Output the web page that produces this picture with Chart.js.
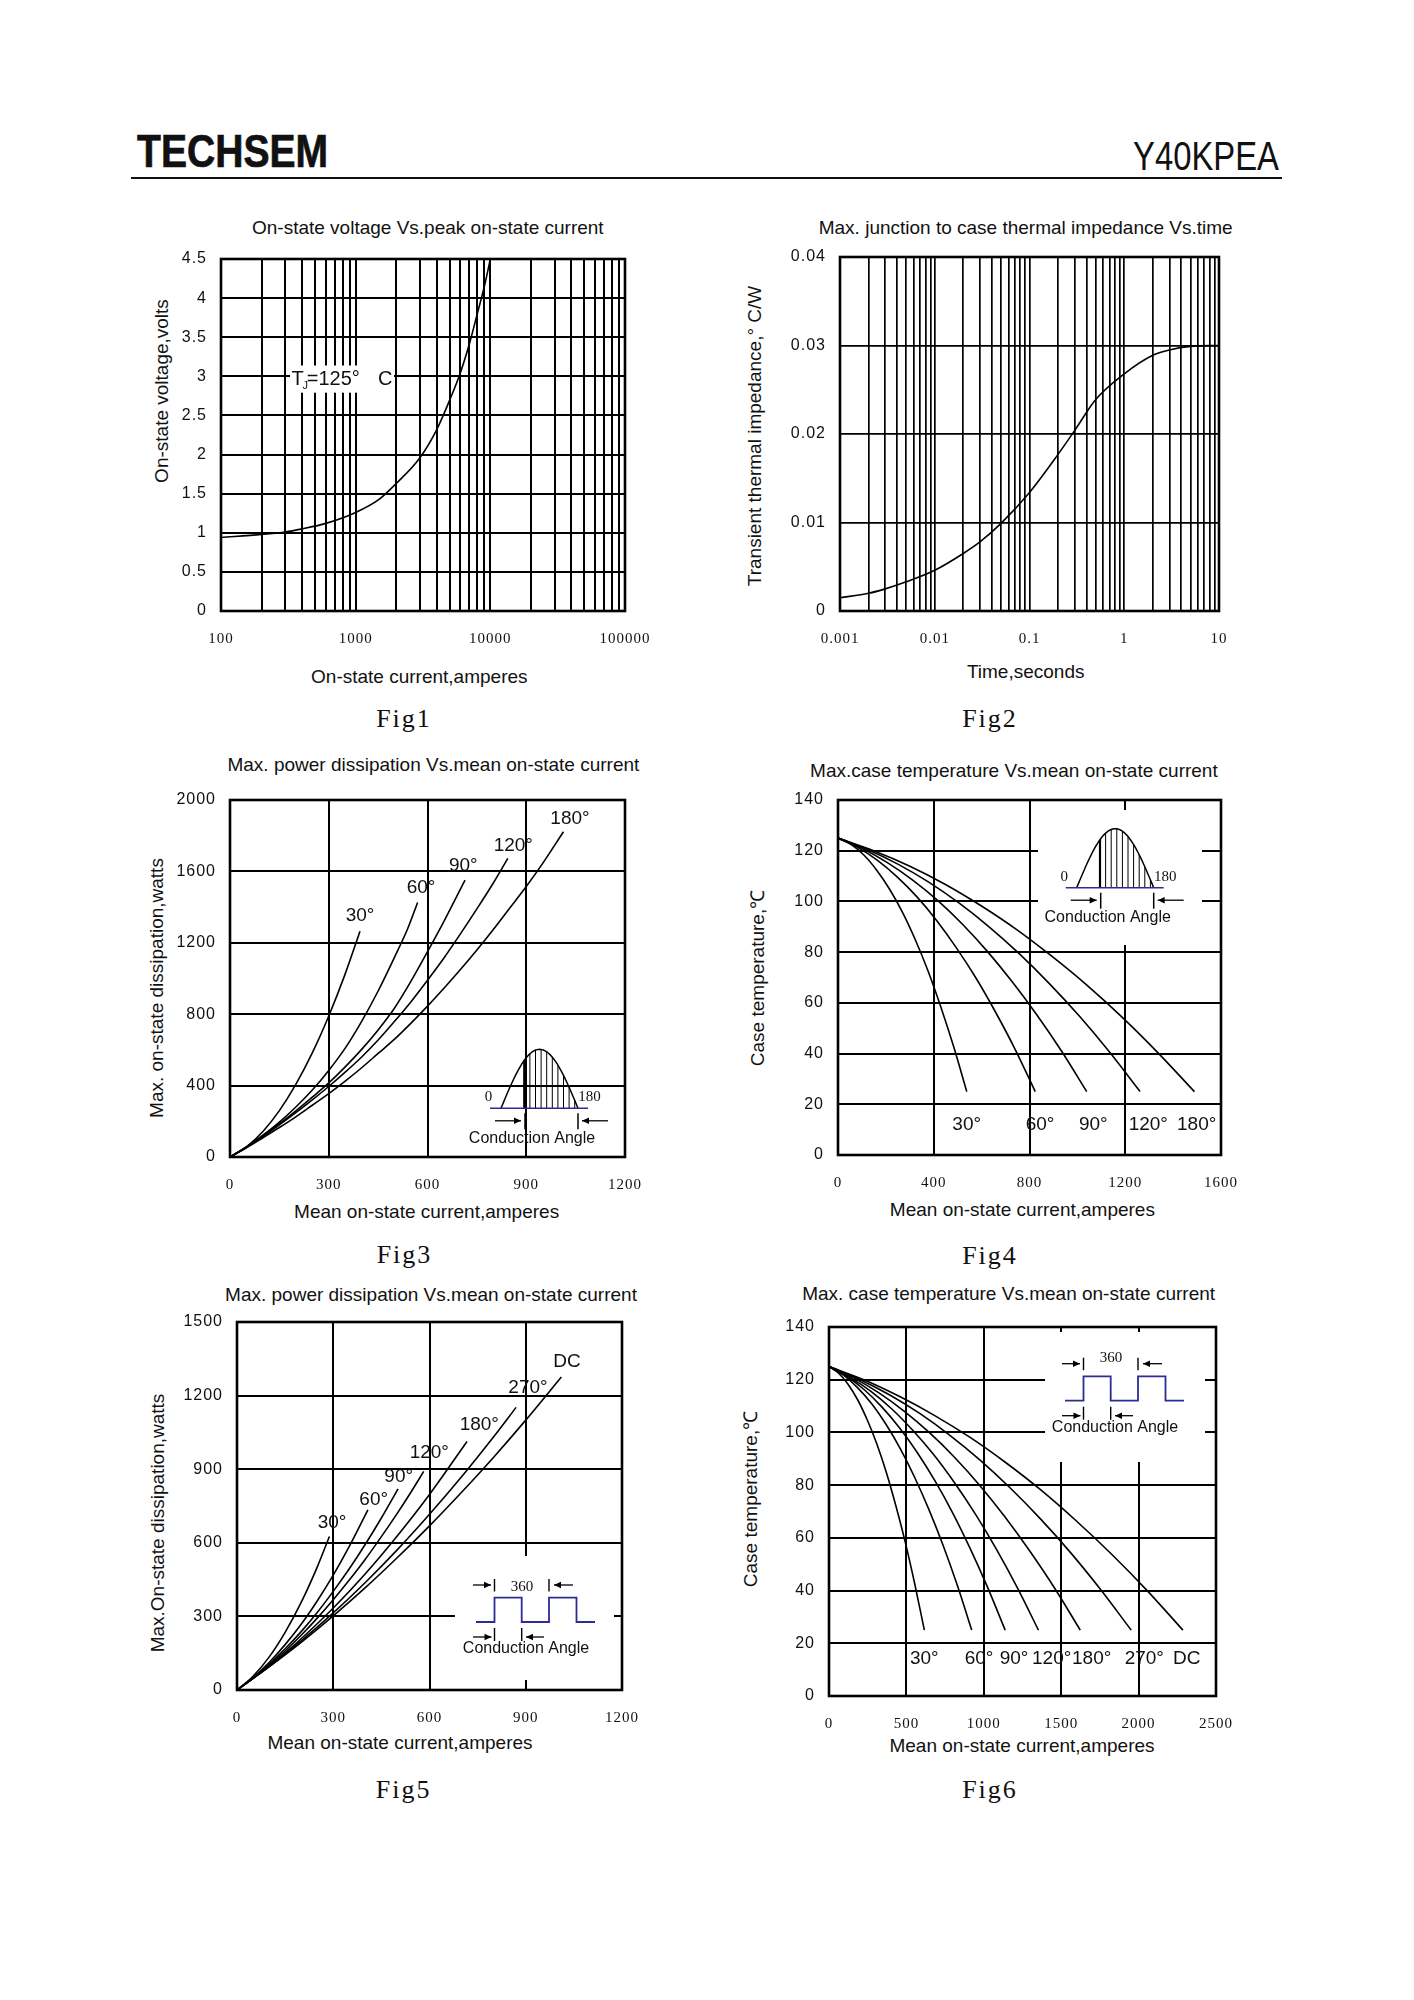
<!DOCTYPE html>
<html><head><meta charset="utf-8">
<script src="https://cdn.jsdelivr.net/npm/chart.js@4.4.1/dist/chart.umd.min.js"></script>
<style>
html,body{margin:0;padding:0;background:#fff;}
#page{position:relative;width:1414px;height:2000px;background:#fff;overflow:hidden;font-family:'Liberation Sans',Arial,sans-serif;color:#111;}
.t{position:absolute;white-space:nowrap;line-height:1;transform:translate(-50%,-50%);}
.title{font-size:19px;}
.axt{font-size:19px;}
.yt{transform:translate(-50%,-50%) rotate(-90deg);}
.fig{font-family:'Liberation Serif','Times New Roman',serif;font-size:26px;letter-spacing:2px;}
canvas{position:absolute;}
#brand{position:absolute;left:136.7px;top:128px;font:bold 46px 'Liberation Sans',Arial,sans-serif;line-height:1;transform:scaleX(0.85);transform-origin:left top;-webkit-text-stroke:0.7px #111;color:#111;white-space:nowrap;}
#model{position:absolute;right:135px;top:135.6px;font:40px 'Liberation Sans',Arial,sans-serif;line-height:1;transform:scaleX(0.82);transform-origin:right top;color:#111;white-space:nowrap;}
#rule{position:absolute;left:131px;top:177px;width:1151px;height:2px;background:#111;}
</style></head><body><div id="page">
<div id="brand">TECHSEM</div>
<div id="model">Y40KPEA</div>
<div id="rule"></div>

<div class="t title" style="left:427.8px;top:226.7px">On-state voltage Vs.peak on-state current</div>
<div class="t axt" style="left:419.3px;top:676px">On-state current,amperes</div>
<div class="t axt yt" style="left:160.8px;top:391px">On-state voltage,volts</div>
<div class="t fig" style="left:404px;top:718.5px">Fig1</div>

<div class="t title" style="left:1025.7px;top:227px">Max. junction to case thermal impedance Vs.time</div>
<div class="t axt" style="left:1025.7px;top:671px">Time,seconds</div>
<div class="t axt yt" style="left:753.6px;top:436px">Transient thermal impedance,° C/W</div>
<div class="t fig" style="left:990px;top:718.5px">Fig2</div>

<div class="t title" style="left:433.4px;top:763.6px">Max. power dissipation Vs.mean on-state current</div>
<div class="t axt" style="left:426.6px;top:1210.5px">Mean on-state current,amperes</div>
<div class="t axt yt" style="left:156px;top:988px">Max. on-state dissipation,watts</div>
<div class="t fig" style="left:404.5px;top:1254.5px">Fig3</div>

<div class="t title" style="left:1013.9px;top:769.7px">Max.case temperature Vs.mean on-state current</div>
<div class="t axt" style="left:1022.4px;top:1208.5px">Mean on-state current,amperes</div>
<div class="t axt yt" style="left:757px;top:978px">Case temperature,℃</div>
<div class="t fig" style="left:990px;top:1255.5px">Fig4</div>

<div class="t title" style="left:431px;top:1293.7px">Max. power dissipation Vs.mean on-state current</div>
<div class="t axt" style="left:400px;top:1742.4px">Mean on-state current,amperes</div>
<div class="t axt yt" style="left:157px;top:1522.7px">Max.On-state dissipation,watts</div>
<div class="t fig" style="left:403.7px;top:1790px">Fig5</div>

<div class="t title" style="left:1008.6px;top:1292.7px">Max. case temperature Vs.mean on-state current</div>
<div class="t axt" style="left:1022px;top:1745.3px">Mean on-state current,amperes</div>
<div class="t axt yt" style="left:750px;top:1498.5px">Case temperature,℃</div>
<div class="t fig" style="left:990px;top:1790px">Fig6</div>
</div>
<script>
// ================= DATA =================
// Fig1: on-state voltage vs peak on-state current (log x)
const fig1Current = [100,200,300,400,600,1000,1500,2000,3000,4000,5000,6000,7000,8000,9000,10000];
const fig1Voltage = [0.94,0.98,1.01,1.05,1.12,1.26,1.43,1.63,1.96,2.32,2.70,3.05,3.42,3.80,4.14,4.5];
const fig1YTicks = [0,0.5,1,1.5,2,2.5,3,3.5,4,4.5];
const fig1YLabels = ['0','0.5','1','1.5','2','2.5','3','3.5','4','4.5'];
const fig1XDecades = [100,1000,10000,100000];
const fig1XLabels = ['100','1000','10000','100000'];

// Fig2: transient thermal impedance vs time (log x)
const fig2Time = [0.001,0.002,0.003,0.005,0.01,0.02,0.03,0.05,0.1,0.2,0.3,0.5,1,2,3,5,10];
const fig2Impedance = [0.0015,0.0020,0.0025,0.0033,0.0046,0.0065,0.0078,0.0099,0.0134,0.0177,0.0204,0.0239,0.0268,0.0289,0.0295,0.0299,0.0300];
const fig2YTicks = [0,0.01,0.02,0.03,0.04];
const fig2YLabels = ['0','0.01','0.02','0.03','0.04'];
const fig2XDecades = [0.001,0.01,0.1,1,10];
const fig2XLabels = ['0.001','0.01','0.1','1','10'];

// Fig3: max power dissipation vs mean current (sine)
const fig3Current30 = [0,50,100,150,200,250,300,350,395];
const fig3Power30   = [0,57,143,260,407,583,790,1026,1265];
const fig3Current60 = [0,50,100,150,200,250,300,350,400,450,500,540,570];
const fig3Power60   = [0,57,122,195,280,375,485,610,760,930,1120,1280,1426];
const fig3Current90 = [0,50,100,150,200,250,300,350,400,450,500,550,600,650,714];
const fig3Power90   = [0,56,118,185,258,335,415,505,603,712,835,985,1150,1320,1551];
const fig3Current120 = [0,50,100,150,200,250,300,350,400,450,500,550,600,650,700,750,800,844];
const fig3Power120   = [0,55,115,180,248,320,395,475,560,655,760,870,990,1115,1250,1390,1535,1673];
const fig3Current180 = [0,50,100,150,200,250,300,350,400,450,500,550,600,650,700,750,800,850,900,950,1013];
const fig3Power180   = [0,52,108,165,225,290,355,425,500,580,660,750,845,945,1050,1160,1275,1395,1515,1645,1822];
const fig3XTicks = [0,300,600,900,1200];
const fig3XLabels = ['0','300','600','900','1200'];
const fig3YTicks = [0,400,800,1200,1600,2000];
const fig3YLabels = ['0','400','800','1200','1600','2000'];

// Fig4: max case temperature vs mean current (sine)
const fig4Current30 = [0,54,108,161,215,269,323,377,430,484,538];
const fig4Temp30    = [125,122.5,118.3,112.4,104.9,95.8,84.9,72.4,58.3,42.5,25];
const fig4Current60 = [0,82,165,247,330,412,494,577,659,742,824];
const fig4Temp60    = [125,121.3,116.2,109.7,101.8,92.5,81.8,69.7,56.2,41.3,25];
const fig4Current90 = [0,104,208,312,416,520,623,727,831,935,1039];
const fig4Temp90    = [125,120.8,115.2,108.4,100.4,91,80.4,68.4,55.2,40.8,25];
const fig4Current120 = [0,126,252,379,505,631,757,883,1010,1136,1262];
const fig4Temp120    = [125,120.4,114.6,107.6,99.4,90,79.4,67.6,54.6,40.4,25];
const fig4Current180 = [0,149,298,447,596,745,893,1042,1191,1340,1489];
const fig4Temp180    = [125,120,114,106.8,98.4,89,78.4,66.8,54,40,25];
const fig4XTicks = [0,400,800,1200,1600];
const fig4XLabels = ['0','400','800','1200','1600'];
const fig4YTicks = [0,20,40,60,80,100,120,140];
const fig4YLabels = ['0','20','40','60','80','100','120','140'];

// Fig5: max power dissipation vs mean current (rectangular)
const fig5Current30 = [0,50,100,150,200,250,288];
const fig5Power30   = [0,56,134,235,357,501,626];
const fig5Current60 = [0,50,100,150,200,250,300,350,408];
const fig5Power60   = [0,51,112,185,268,363,468,585,734];
const fig5Current90 = [0,50,100,150,200,250,300,350,400,450,502];
const fig5Power90   = [0,49,105,168,238,316,402,494,594,701,820];
const fig5Current120 = [0,50,100,150,200,250,300,350,400,450,500,540,582];
const fig5Power120   = [0,48,101,159,223,293,368,448,533,625,721,802,891];
const fig5Current180 = [0,50,100,150,200,250,300,400,500,600,717];
const fig5Power180   = [0,47,97,151,209,270,334,474,629,797,1013];
const fig5Current270 = [0,100,200,300,400,500,600,700,800,870];
const fig5Power270   = [0,95,200,314,438,572,716,869,1032,1152];
const fig5CurrentDC = [0,100,200,300,400,500,600,700,800,900,1011];
const fig5PowerDC   = [0,94,194,302,417,540,669,806,949,1100,1276];
const fig5XTicks = [0,300,600,900,1200];
const fig5XLabels = ['0','300','600','900','1200'];
const fig5YTicks = [0,300,600,900,1200,1500];
const fig5YLabels = ['0','300','600','900','1200','1500'];

// Fig6: max case temperature vs mean current (rectangular)
const fig6Current30 = [0,62,123,185,246,308,370,431,493,554,616];
const fig6Temp30    = [125,122.5,118.3,112.4,104.9,95.8,84.9,72.4,58.3,42.5,25];
const fig6Current60 = [0,92,184,277,369,461,553,645,738,830,922];
const fig6Temp60    = [125,121.8,117,110.8,103,93.8,83,70.8,57,41.8,25];
const fig6Current90 = [0,114,228,341,455,569,683,797,910,1024,1138];
const fig6Temp90    = [125,121.3,116.2,109.7,101.8,92.5,81.8,69.7,56.2,41.3,25];
const fig6Current120 = [0,135,271,406,541,677,812,947,1082,1218,1353];
const fig6Temp120    = [125,120.9,115.6,108.9,100.8,91.5,80.8,68.9,55.6,40.9,25];
const fig6Current180 = [0,162,325,487,649,812,974,1136,1298,1461,1623];
const fig6Temp180    = [125,120.6,114.9,108,99.9,90.5,79.9,68,54.9,40.6,25];
const fig6Current270 = [0,195,390,586,781,976,1171,1366,1562,1757,1952];
const fig6Temp270    = [125,120.2,114.3,107.2,98.9,89.5,78.9,67.2,54.3,40.2,25];
const fig6CurrentDC = [0,229,457,686,914,1143,1372,1600,1829,2057,2286];
const fig6TempDC    = [125,119.9,113.6,106.3,98,88.5,78,66.3,53.6,39.9,25];
const fig6XTicks = [0,500,1000,1500,2000,2500];
const fig6XLabels = ['0','500','1000','1500','2000','2500'];
const fig6YTicks = [0,20,40,60,80,100,120,140];
const fig6YLabels = ['0','20','40','60','80','100','120','140'];

// ================= RENDERING =================
const BLUE = '#2c2c94';
const INK = '#111';
const SANS = "'Liberation Sans', Arial, sans-serif";
const SERIF = "'Liberation Serif', 'Times New Roman', serif";
const page = document.getElementById('page');

function pts(xs, ys){ return xs.map((x,i)=>({x:x, y:ys[i]})); }
function series(xs, ys){
  return { data: pts(xs,ys), showLine:true, borderColor:'#000', borderWidth:1.6,
           pointRadius:0, pointHoverRadius:0, fill:false, cubicInterpolationMode:'monotone' };
}
function logGrid(min, max){
  const out=[];
  const e0=Math.round(Math.log10(min)), e1=Math.round(Math.log10(max));
  for(let e=e0;e<e1;e++){ for(let k=1;k<10;k++){ out.push(k*Math.pow(10,e)); } }
  out.push(max);
  return out;
}
function axis(kind, type, min, max, tickValues, labelOf, gridW){
  return {
    type:type, min:min, max:max, position: kind==='x'?'bottom':'left',
    afterBuildTicks: s => { s.ticks = tickValues.map(v=>({value:v})); },
    afterFit: s => {
      if(kind==='x') s.height = 50; else s.width = 90;
      s.paddingLeft = 0; s.paddingRight = 0; s.paddingTop = 0; s.paddingBottom = 0;
    },
    ticks: { autoSkip:false, maxRotation:0, minRotation:0, padding: kind==='x'?19:14, color:INK,
             font: kind==='x' ? {family:SERIF, size:15} : {family:SANS, size:16},
             callback: v => labelOf(v) },
    grid: { color:'#000', lineWidth:gridW, drawTicks:false },
    border: { display:false }
  };
}
function linLabels(ticks, labels){ return v => { const i = ticks.indexOf(v); return i>=0 ? labels[i] : ''; }; }
function logLabels(decades, labels){
  return v => { for(let i=0;i<decades.length;i++){ if(Math.abs(v/decades[i]-1)<1e-6) return labels[i]; } return ''; };
}

function makeChart(box, datasets, xAxis, yAxis, deco){
  const L=box[0], T=box[1], R=box[2], B=box[3];
  const c = document.createElement('canvas');
  const w = R-L+135, h = B-T+70;
  c.style.left=(L-90)+'px'; c.style.top=(T-20)+'px';
  c.style.width=w+'px'; c.style.height=h+'px';
  c.width=w; c.height=h;
  page.appendChild(c);
  return new Chart(c, {
    type:'scatter',
    data:{datasets:datasets},
    options:{
      responsive:false, animation:false, events:[],
      layout:{padding:{left:0,right:45,top:20,bottom:0}},
      scales:{x:xAxis, y:yAxis},
      plugins:{legend:{display:false}, tooltip:{enabled:false}, title:{display:false}}
    },
    plugins:[{
      id:'deco',
      beforeDraw(ch){ ch.ctx.letterSpacing='1px'; },
      beforeDatasetsDraw(ch){
        const a=ch.chartArea, ctx=ch.ctx;
        ctx.save();
        (deco.boxes||[]).forEach(b=>{ ctx.fillStyle='#fff'; ctx.fillRect(a.left+b[0], a.top+b[1], b[2]-b[0], b[3]-b[1]); });
        ctx.strokeStyle='#000'; ctx.lineWidth=2.6;
        ctx.strokeRect(a.left, a.top, a.right-a.left, a.bottom-a.top);
        ctx.restore();
      },
      afterDatasetsDraw(ch){
        const a=ch.chartArea, ctx=ch.ctx;
        ctx.save(); ctx.letterSpacing='0px';
        if(deco.draw) deco.draw(ctx, a);
        ctx.restore();
      }
    }]
  });
}

function txt(ctx, s, x, y, font, align){
  ctx.font = font; ctx.fillStyle = INK; ctx.textAlign = align||'center'; ctx.textBaseline='middle';
  ctx.fillText(s, x, y);
}
function seg(ctx, x1,y1,x2,y2){ ctx.beginPath(); ctx.moveTo(x1,y1); ctx.lineTo(x2,y2); ctx.stroke(); }
function arrow(ctx, x1, y, x2){
  ctx.strokeStyle='#000'; ctx.fillStyle='#000'; ctx.lineWidth=1.3;
  seg(ctx, x1, y, x2, y);
  const d = Math.sign(x2-x1);
  ctx.beginPath(); ctx.moveTo(x2, y); ctx.lineTo(x2-d*7, y-3.2); ctx.lineTo(x2-d*7, y+3.2); ctx.closePath(); ctx.fill();
}
function labels(ctx, a, list){
  list.forEach(l => txt(ctx, l[0], a.left+l[1], a.top+l[2], "19px "+SANS));
}
function halfSine(ctx, sx, by){
  const w=77, h=59;
  const yAt = x => by - h*Math.sin(Math.PI*(x-sx)/w);
  ctx.strokeStyle='#000'; ctx.lineWidth=1;
  for(let x=sx+23.3; x<=sx+w-1; x+=5.6){ seg(ctx, x, by, x, yAt(x)); }
  ctx.lineWidth=2.2; seg(ctx, sx+23.3, by, sx+23.3, yAt(sx+23.3));
  ctx.lineWidth=1.5; ctx.beginPath();
  for(let i=0;i<=60;i++){ const x=sx+w*i/60; if(i===0) ctx.moveTo(x, yAt(x)); else ctx.lineTo(x, yAt(x)); }
  ctx.stroke();
  ctx.strokeStyle=BLUE; ctx.lineWidth=1.6; seg(ctx, sx-11, by, sx+87, by);
  txt(ctx, '0', sx-12.5, by-11, "15px "+SERIF);
  txt(ctx, '180', sx+88.5, by-11, "15px "+SERIF);
  ctx.strokeStyle='#000'; ctx.lineWidth=1.5;
  seg(ctx, sx+24, by+5, sx+24, by+21);
  seg(ctx, sx+77, by+5, sx+77, by+21);
  arrow(ctx, sx-6, by+12.5, sx+20);
  arrow(ctx, sx+107, by+12.5, sx+81);
  txt(ctx, 'Conduction Angle', sx+31, by+30, "16px "+SANS);
}
function squareWave(ctx, x0, yL, d360){
  const hi = yL-24.3;
  ctx.strokeStyle=BLUE; ctx.lineWidth=1.8; ctx.beginPath();
  ctx.moveTo(x0,yL); ctx.lineTo(x0+18.5,yL); ctx.lineTo(x0+18.5,hi); ctx.lineTo(x0+45.7,hi); ctx.lineTo(x0+45.7,yL);
  ctx.lineTo(x0+73,yL); ctx.lineTo(x0+73,hi); ctx.lineTo(x0+100.5,hi); ctx.lineTo(x0+100.5,yL); ctx.lineTo(x0+119,yL);
  ctx.stroke();
  ctx.strokeStyle='#000'; ctx.lineWidth=1.4;
  seg(ctx, x0+18.5, yL-43, x0+18.5, yL-30.5);
  seg(ctx, x0+73, yL-43, x0+73, yL-30.5);
  seg(ctx, x0+18.5, yL+6, x0+18.5, yL+19);
  seg(ctx, x0+45.7, yL+6, x0+45.7, yL+19);
  arrow(ctx, x0-3, yL-37, x0+15);
  arrow(ctx, x0+97, yL-37, x0+78);
  arrow(ctx, x0-3, yL+15, x0+15.5);
  arrow(ctx, x0+68, yL+15, x0+50);
  txt(ctx, '360', x0+46, yL+d360, "15px "+SERIF);
  txt(ctx, 'Conduction Angle', x0+50, yL+27, "16px "+SANS);
}

// ---------- Fig1 ----------
const fig1Grid = logGrid(100, 100000);
makeChart([221,259,625,611],
  [series(fig1Current, fig1Voltage)],
  axis('x','logarithmic',100,100000,fig1Grid,logLabels(fig1XDecades,fig1XLabels),2),
  axis('y','linear',0,4.5,fig1YTicks,linLabels(fig1YTicks,fig1YLabels),2),
  { boxes:[[69,106.5,173,133.7]],
    draw:(ctx,a)=>{
      ctx.fillStyle=INK; ctx.textAlign='left'; ctx.textBaseline='alphabetic';
      ctx.font="20px "+SANS; ctx.fillText('T', a.left+70.4, a.top+126.3);
      ctx.font="11px "+SANS; ctx.fillText('J', a.left+81.6, a.top+130);
      ctx.font="20px "+SANS; ctx.fillText('=125°', a.left+85.7, a.top+126.3);
      ctx.fillText('C', a.left+157, a.top+126.3);
    } });

// ---------- Fig2 ----------
const fig2Grid = logGrid(0.001, 10);
makeChart([840,257,1219,611],
  [series(fig2Time, fig2Impedance)],
  axis('x','logarithmic',0.001,10,fig2Grid,logLabels(fig2XDecades,fig2XLabels),1.7),
  axis('y','linear',0,0.04,fig2YTicks,linLabels(fig2YTicks,fig2YLabels),1.7),
  {});

// ---------- Fig3 ----------
makeChart([230,800,625,1157],
  [series(fig3Current30,fig3Power30), series(fig3Current60,fig3Power60), series(fig3Current90,fig3Power90),
   series(fig3Current120,fig3Power120), series(fig3Current180,fig3Power180)],
  axis('x','linear',0,1200,fig3XTicks,linLabels(fig3XTicks,fig3XLabels),2),
  axis('y','linear',0,2000,fig3YTicks,linLabels(fig3YTicks,fig3YLabels),2),
  { draw:(ctx,a)=>{
      labels(ctx,a,[['30°',130,115.7],['60°',191,87.3],['90°',233.3,66],['120°',283.3,45.7],['180°',340,18.3]]);
      halfSine(ctx, a.left+271, a.top+308.3);
    } });

// ---------- Fig4 ----------
makeChart([838,800,1221,1155],
  [series(fig4Current30,fig4Temp30), series(fig4Current60,fig4Temp60), series(fig4Current90,fig4Temp90),
   series(fig4Current120,fig4Temp120), series(fig4Current180,fig4Temp180)],
  axis('x','linear',0,1600,fig4XTicks,linLabels(fig4XTicks,fig4XLabels),2),
  axis('y','linear',0,140,fig4YTicks,linLabels(fig4YTicks,fig4YLabels),2),
  { boxes:[[200,10,364,145]],
    draw:(ctx,a)=>{
      labels(ctx,a,[['30°',128.7,325],['60°',202,325],['90°',255.3,325],['120°',310.3,325],['180°',358.7,325]]);
      halfSine(ctx, a.left+238.7, a.top+87.7);
    } });

// ---------- Fig5 ----------
makeChart([237,1322,622,1690],
  [series(fig5Current30,fig5Power30), series(fig5Current60,fig5Power60), series(fig5Current90,fig5Power90),
   series(fig5Current120,fig5Power120), series(fig5Current180,fig5Power180), series(fig5Current270,fig5Power270),
   series(fig5CurrentDC,fig5PowerDC)],
  axis('x','linear',0,1200,fig5XTicks,linLabels(fig5XTicks,fig5XLabels),2),
  axis('y','linear',0,1500,fig5YTicks,linLabels(fig5YTicks,fig5YLabels),2),
  { boxes:[[218,234,377,358]],
    draw:(ctx,a)=>{
      labels(ctx,a,[['30°',95,201],['60°',136.7,177.7],['90°',161.7,154.3],['120°',192.3,131],['180°',242.3,102.7],['270°',291,66],['DC',330,39.3]]);
      squareWave(ctx, a.left+239, a.top+300, -34.7);
    } });

// ---------- Fig6 ----------
makeChart([829,1327,1216,1696],
  [series(fig6Current30,fig6Temp30), series(fig6Current60,fig6Temp60), series(fig6Current90,fig6Temp90),
   series(fig6Current120,fig6Temp120), series(fig6Current180,fig6Temp180), series(fig6Current270,fig6Temp270),
   series(fig6CurrentDC,fig6TempDC)],
  axis('x','linear',0,2500,fig6XTicks,linLabels(fig6XTicks,fig6XLabels),2),
  axis('y','linear',0,140,fig6YTicks,linLabels(fig6YTicks,fig6YLabels),2),
  { boxes:[[216,5,376,135]],
    draw:(ctx,a)=>{
      labels(ctx,a,[['30°',95.3,331.3],['60°',150,331.3],['90°',185,331.3],['120°',222.7,331.3],['180°',262.7,331.3],['270°',315.3,331.3],['DC',357.7,331.3]]);
      squareWave(ctx, a.left+236, a.top+73.7, -42.4);
    } });
</script>
</body></html>
